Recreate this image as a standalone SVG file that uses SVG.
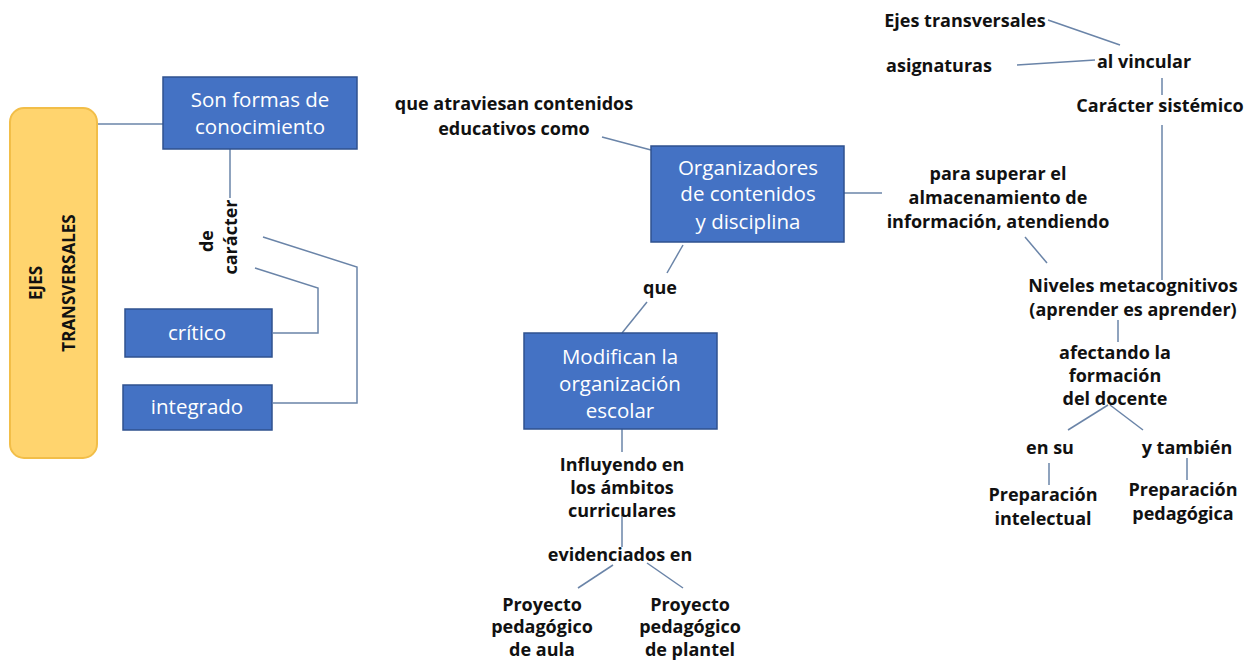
<svg xmlns="http://www.w3.org/2000/svg" width="1253" height="660" viewBox="0 0 1253 660">
<style>
.box{fill:#4472C4;stroke:#2F528F;stroke-width:1.5}
.bt{font-family:"Open Sans","Liberation Sans",sans-serif;font-size:20.5px;fill:#ffffff;text-anchor:middle}
.lb{font-family:"Open Sans","Liberation Sans",sans-serif;font-size:18px;font-weight:bold;fill:#111111;text-anchor:middle}
.ln{fill:none;stroke:#6A84A8;stroke-width:1.5}
</style>
<rect width="1253" height="660" fill="#ffffff"/>
<g id="connectors">
<line class="ln" x1="97" y1="124" x2="163" y2="124"/>
<line class="ln" x1="230" y1="149" x2="230" y2="198"/>
<polyline class="ln" points="263,237 357,267 357,403 273,403"/>
<polyline class="ln" points="255,268 318,288 318,333 273,333"/>
<line class="ln" x1="602" y1="137" x2="651" y2="150"/>
<line class="ln" x1="844" y1="193" x2="882" y2="193"/>
<line class="ln" x1="683" y1="245" x2="667" y2="273"/>
<line class="ln" x1="647" y1="302" x2="622" y2="333"/>
<line class="ln" x1="622" y1="429" x2="622" y2="452"/>
<line class="ln" x1="622" y1="515" x2="622" y2="547"/>
<line class="ln" x1="613" y1="565" x2="578" y2="588"/>
<line class="ln" x1="647" y1="563" x2="683" y2="588"/>
<line class="ln" x1="1048" y1="20" x2="1120" y2="45"/>
<line class="ln" x1="1017" y1="65" x2="1095" y2="60"/>
<line class="ln" x1="1162" y1="78" x2="1162" y2="95"/>
<line class="ln" x1="1162" y1="125" x2="1162" y2="280"/>
<line class="ln" x1="1025" y1="237" x2="1047" y2="263"/>
<line class="ln" x1="1118" y1="320" x2="1118" y2="342"/>
<line class="ln" x1="1108" y1="405" x2="1068" y2="430"/>
<line class="ln" x1="1110" y1="405" x2="1143" y2="430"/>
<line class="ln" x1="1049" y1="463" x2="1049" y2="485"/>
<line class="ln" x1="1187" y1="458" x2="1187" y2="480"/>
</g>
<g id="ejes">
<rect x="10" y="108" width="87" height="350" rx="14" fill="#FFD46E" stroke="#F2BE48" stroke-width="2"/>
<text transform="translate(42,283) rotate(-90)" font-family="'Open Sans','Liberation Sans',sans-serif" font-size="17" font-weight="bold" fill="#111" text-anchor="middle">EJES</text>
<text transform="translate(75,283) rotate(-90)" font-family="'Open Sans','Liberation Sans',sans-serif" font-size="17" font-weight="bold" fill="#111" text-anchor="middle">TRANSVERSALES</text>
</g>
<g id="son-formas">
<rect class="box" x="163" y="77" width="194" height="72"/>
<text class="bt" x="260" y="107">Son formas de</text>
<text class="bt" x="260" y="134">conocimiento</text>
</g>
<g id="de-caracter">
<text class="lb" transform="translate(213,241) rotate(-90)">de</text>
<text class="lb" transform="translate(237,237) rotate(-90)">carácter</text>
</g>
<g id="critico">
<rect class="box" x="125" y="309" width="147" height="48"/>
<text class="bt" x="197" y="340">crítico</text>
</g>
<g id="integrado">
<rect class="box" x="123" y="385" width="149" height="45"/>
<text class="bt" x="197" y="414">integrado</text>
</g>
<g id="que-atraviesan">
<text class="lb" x="514" y="110">que atraviesan contenidos</text>
<text class="lb" x="514" y="135">educativos como</text>
</g>
<g id="organizadores">
<rect class="box" x="651" y="146" width="193" height="96"/>
<text class="bt" x="748" y="175">Organizadores</text>
<text class="bt" x="748" y="201">de contenidos</text>
<text class="bt" x="748" y="229">y disciplina</text>
</g>
<g id="que">
<text class="lb" x="660" y="294">que</text>
</g>
<g id="modifican">
<rect class="box" x="524" y="333" width="193" height="96"/>
<text class="bt" x="620" y="364">Modifican la</text>
<text class="bt" x="620" y="391">organización</text>
<text class="bt" x="620" y="418">escolar</text>
</g>
<g id="influyendo">
<text class="lb" x="622" y="471">Influyendo en</text>
<text class="lb" x="622" y="494">los ámbitos</text>
<text class="lb" x="622" y="517">curriculares</text>
</g>
<g id="evidenciados">
<text class="lb" x="620" y="561">evidenciados en</text>
</g>
<g id="proyecto-aula">
<text class="lb" x="542" y="611">Proyecto</text>
<text class="lb" x="542" y="633">pedagógico</text>
<text class="lb" x="542" y="656">de aula</text>
</g>
<g id="proyecto-plantel">
<text class="lb" x="690" y="611">Proyecto</text>
<text class="lb" x="690" y="633">pedagógico</text>
<text class="lb" x="690" y="656">de plantel</text>
</g>
<g id="ejes-transversales">
<text class="lb" x="965" y="27">Ejes transversales</text>
</g>
<g id="asignaturas">
<text class="lb" x="939" y="72">asignaturas</text>
</g>
<g id="al-vincular">
<text class="lb" x="1144" y="68">al vincular</text>
</g>
<g id="caracter-sistemico">
<text class="lb" x="1160" y="112">Carácter sistémico</text>
</g>
<g id="para-superar">
<text class="lb" x="998" y="180">para superar el</text>
<text class="lb" x="998" y="204">almacenamiento de</text>
<text class="lb" x="998" y="228">información, atendiendo</text>
</g>
<g id="niveles">
<text class="lb" x="1133" y="292">Niveles metacognitivos</text>
<text class="lb" x="1133" y="316">(aprender es aprender)</text>
</g>
<g id="afectando">
<text class="lb" x="1115" y="359">afectando la</text>
<text class="lb" x="1115" y="382">formación</text>
<text class="lb" x="1115" y="405">del docente</text>
</g>
<g id="en-su">
<text class="lb" x="1050" y="454">en su</text>
</g>
<g id="y-tambien">
<text class="lb" x="1187" y="454">y también</text>
</g>
<g id="prep-intelectual">
<text class="lb" x="1043" y="501">Preparación</text>
<text class="lb" x="1043" y="525">intelectual</text>
</g>
<g id="prep-pedagogica">
<text class="lb" x="1183" y="496">Preparación</text>
<text class="lb" x="1183" y="520">pedagógica</text>
</g>
</svg>
